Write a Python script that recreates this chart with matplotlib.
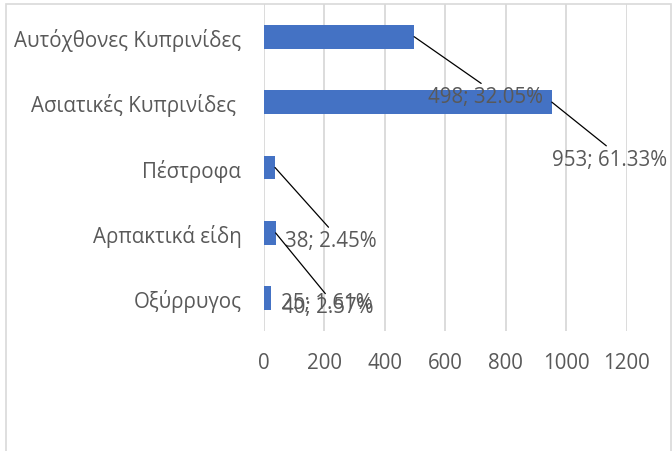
import matplotlib
matplotlib.use('Agg')
import matplotlib.pyplot as plt
from matplotlib.patches import Rectangle

# Data (top to bottom as shown)
categories = ['Αυτόχθονες Κυπρινίδες', 'Ασιατικές Κυπρινίδες ', 'Πέστροφα',
              'Αρπακτικά είδη', 'Οξύρρυγος']
values = [498, 953, 38, 40, 25]
percents = ['32.05%', '61.33%', '2.45%', '2.57%', '1.61%']
x_ticks = [0, 200, 400, 600, 800, 1000, 1200]

# label offsets from bar end, in pixels (dx, dy), and whether to draw leader
label_offsets = [(71, -60), (58, -57), (56, -73), (52, -74), (56, -4)]
leaders = [True, True, True, True, False]

BAR = '#4472C4'
GRID = '#D9D9D9'
TEXT = '#595959'
FS = 14.8

plt.rcParams['font.family'] = ['Open Sans', 'DejaVu Sans']

W, H = 672, 452
fig = plt.figure(figsize=(W / 100, H / 100), dpi=100)

# chart border
fig.patches.append(Rectangle((6 / W, -0.1), (671 - 6) / W, 1.1 - 5 / H,
                             transform=fig.transFigure, fill=False,
                             edgecolor=GRID, linewidth=1.2))

ax = fig.add_axes([263.5 / W, 1 - 332 / H, (626.5 - 263.5) / W, (332 - 5) / H])

ypos = list(range(len(categories)))[::-1]
ax.barh(ypos, values, height=0.366, color=BAR, zorder=3)

ax.set_xlim(0, 1200)
ax.set_ylim(-0.5, len(categories) - 0.5)
ax.set_xticks(x_ticks)
ax.set_xticklabels([str(t) for t in x_ticks])
ax.set_yticks(ypos)
ax.set_yticklabels(categories)
ax.tick_params(axis='both', length=0, labelsize=FS, colors=TEXT)
ax.tick_params(axis='x', pad=15)
ax.tick_params(axis='y', pad=16)
ax.grid(axis='x', color=GRID, linewidth=1.3, zorder=0)
for s in ax.spines.values():
    s.set_visible(False)

for y, v, p, (dx, dy), lead in zip(ypos, values, percents, label_offsets, leaders):
    props = None
    if lead:
        props = dict(arrowstyle='-', color='black', linewidth=0.9,
                     shrinkA=0, shrinkB=0, relpos=(0.5, 1.0))
    ax.annotate(f'{v}; {p}', xy=(v, y), xytext=(dx, dy),
                textcoords='offset pixels', ha='center', va='center',
                fontsize=FS, color=TEXT, arrowprops=props, zorder=4,
                annotation_clip=False)

fig.savefig('out.png', dpi=100)
